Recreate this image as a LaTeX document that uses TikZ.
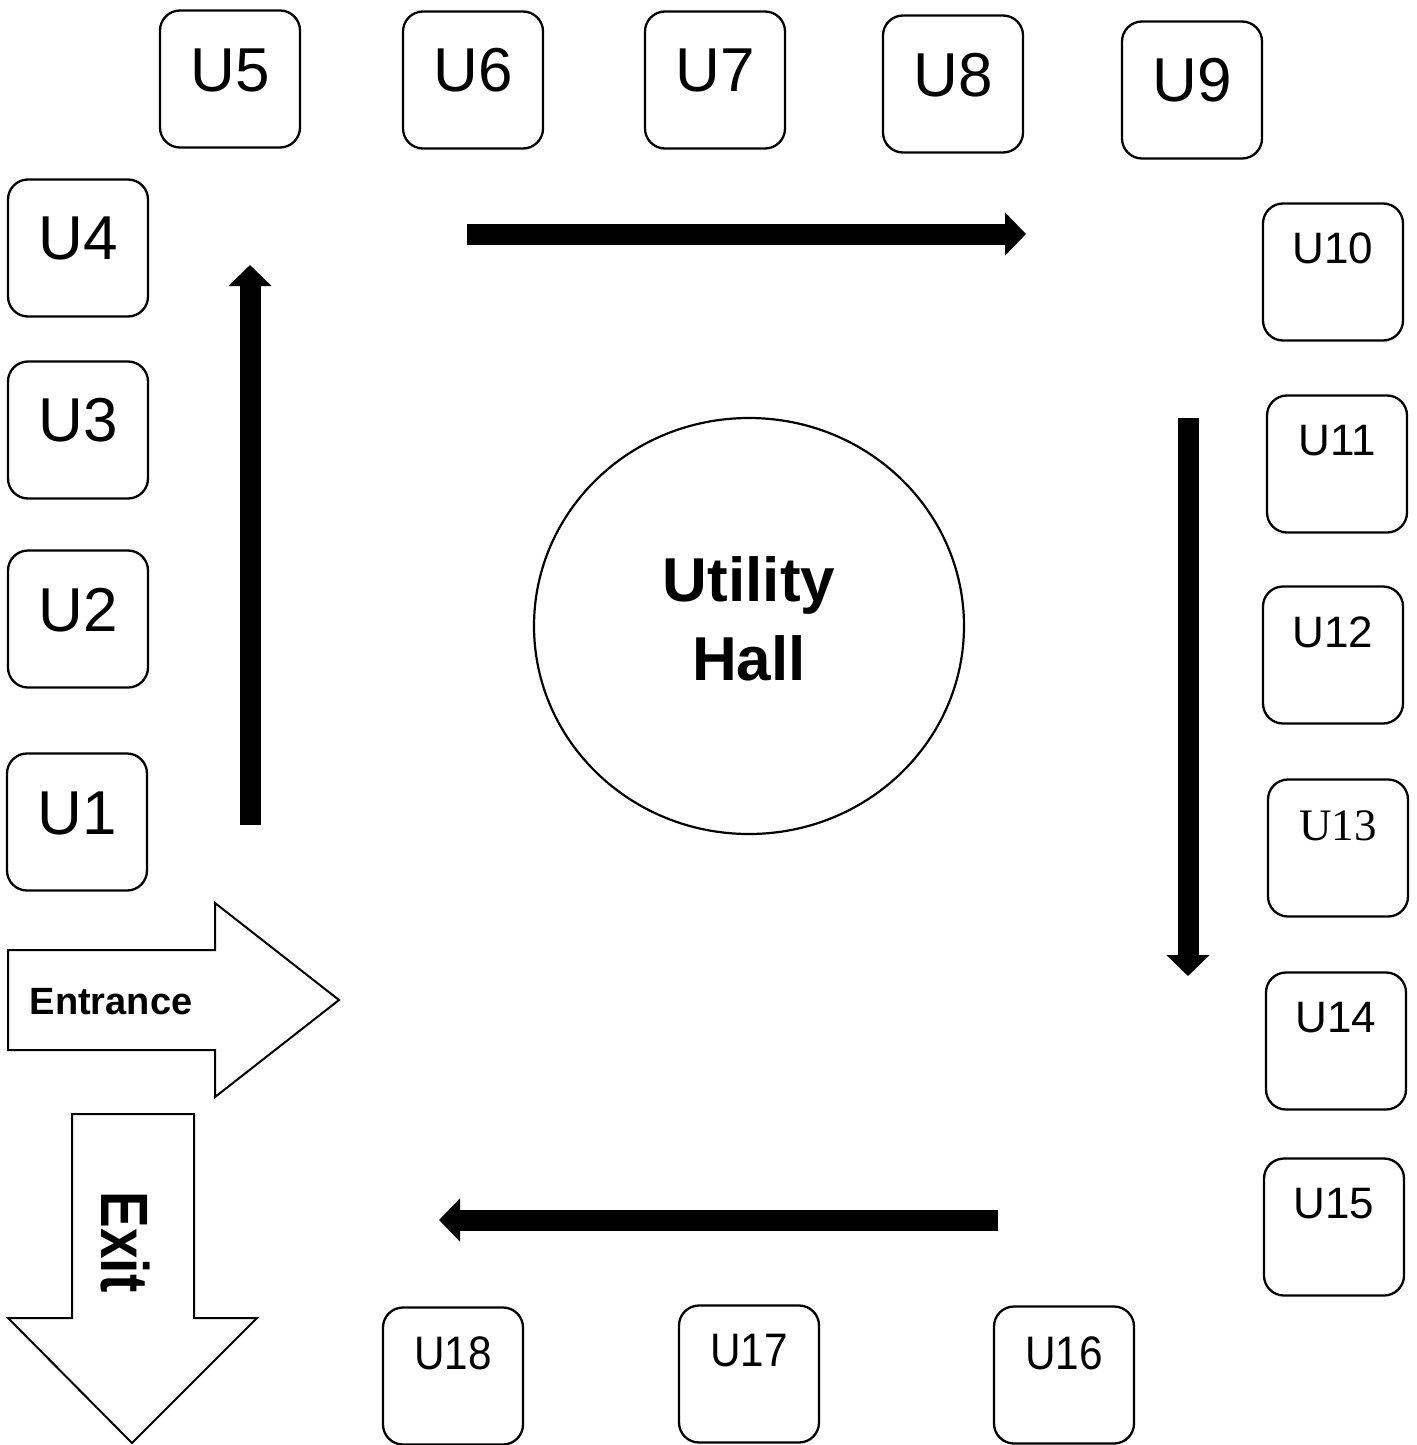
\documentclass[tikz,border=0pt]{standalone}
\usepackage{fontspec}
\setmainfont{Liberation Sans}
\newfontfamily\serifunit{Liberation Serif}
\newfontfamily\narrowunit[FakeStretch=0.9]{Liberation Sans}
\newfontfamily\exitfont[FakeStretch=0.82]{Liberation Sans}
\usepackage{tikz}
\usetikzlibrary{arrows.meta,positioning,shapes.geometric}

\tikzset{
  unitbox/.style={draw, line width=2.3pt, rounded corners=20pt,
    minimum width=140pt, minimum height=137pt, inner sep=0pt},
  unittext/.style={inner sep=0pt},
  big/.style={font=\fontsize{62}{70}\selectfont},
  small/.style={font=\fontsize{44}{50}\selectfont},
  serif/.style={font=\serifunit\fontsize{45}{50}\selectfont},
  narrow/.style={font=\narrowunit\fontsize{47}{50}\selectfont},
  flow/.style={line width=21pt, -{Triangle[width=42pt, length=21pt]}},
  block/.style={draw, line width=2pt, line join=miter, fill=white}
}

\begin{document}
\begin{tikzpicture}[x=1pt, y=-1pt]
  \useasboundingbox (0,0) rectangle (1416,1445);

  % Units
  \foreach \n/\x/\y/\ty/\f in {
      5/230/79/70/big, 6/473/80/70/big, 7/715/80/70/big,
      8/953/84/75/big, 9/1192/90/80/big,
      4/78/248/238/big, 3/78/430/420/big, 2/78/619/610/big, 1/77/822/813/big,
      10/1333/272/248/small, 11/1337/464/441/small, 12/1333/655/632/small,
      13/1338/848/826/serif, 14/1336/1041/1018/small, 15/1334/1227/1204/small,
      18/453/1376/1353/narrow, 17/749/1374/1351/narrow, 16/1064/1375/1353/narrow} {
    \node[unitbox] (u\n) at (\x,\y) {};
    \node[unittext, \f] (u\n text) at (\x,\ty) {U\n};
  }

  % Utility hall
  \node[draw, ellipse, line width=2.2pt, minimum width=430pt, minimum height=416pt,
        inner sep=0pt] (hall) at (749,626) {};
  \node[align=center, font=\bfseries\fontsize{62}{79}\selectfont] (hallname)
    at (749,619) {Utility\\Hall};

  % Walking direction
  \coordinate (upA) at (250,825);    \coordinate (upB) at (250,265);
  \coordinate (rightA) at (467,234); \coordinate (rightB) at (1026,234);
  \coordinate (downA) at (1188,418); \coordinate (downB) at (1188,976);
  \coordinate (leftA) at (998,1220); \coordinate (leftB) at (439,1220);
  \draw[flow] (upA) -- (upB);
  \draw[flow] (rightA) -- (rightB);
  \draw[flow] (downA) -- (downB);
  \draw[flow] (leftA) -- (leftB);

  % Entrance
  \draw[block] (8,950) -- (215,950) -- (215,903) -- (339,1000)
    -- (215,1097) -- (215,1050) -- (8,1050) -- cycle;
  \node[font=\bfseries\fontsize{38}{40}\selectfont] (entrance) at (111,1002) {Entrance};

  % Exit
  \draw[block] (72,1114) -- (194,1114) -- (194,1318) -- (257,1318)
    -- (132,1443) -- (8,1318) -- (72,1318) -- cycle;
  \node[rotate=-90, inner sep=0pt, font=\exitfont\bfseries\fontsize{67}{70}\selectfont]
    (exit) at (125,1242) {Exit};
\end{tikzpicture}
\end{document}
